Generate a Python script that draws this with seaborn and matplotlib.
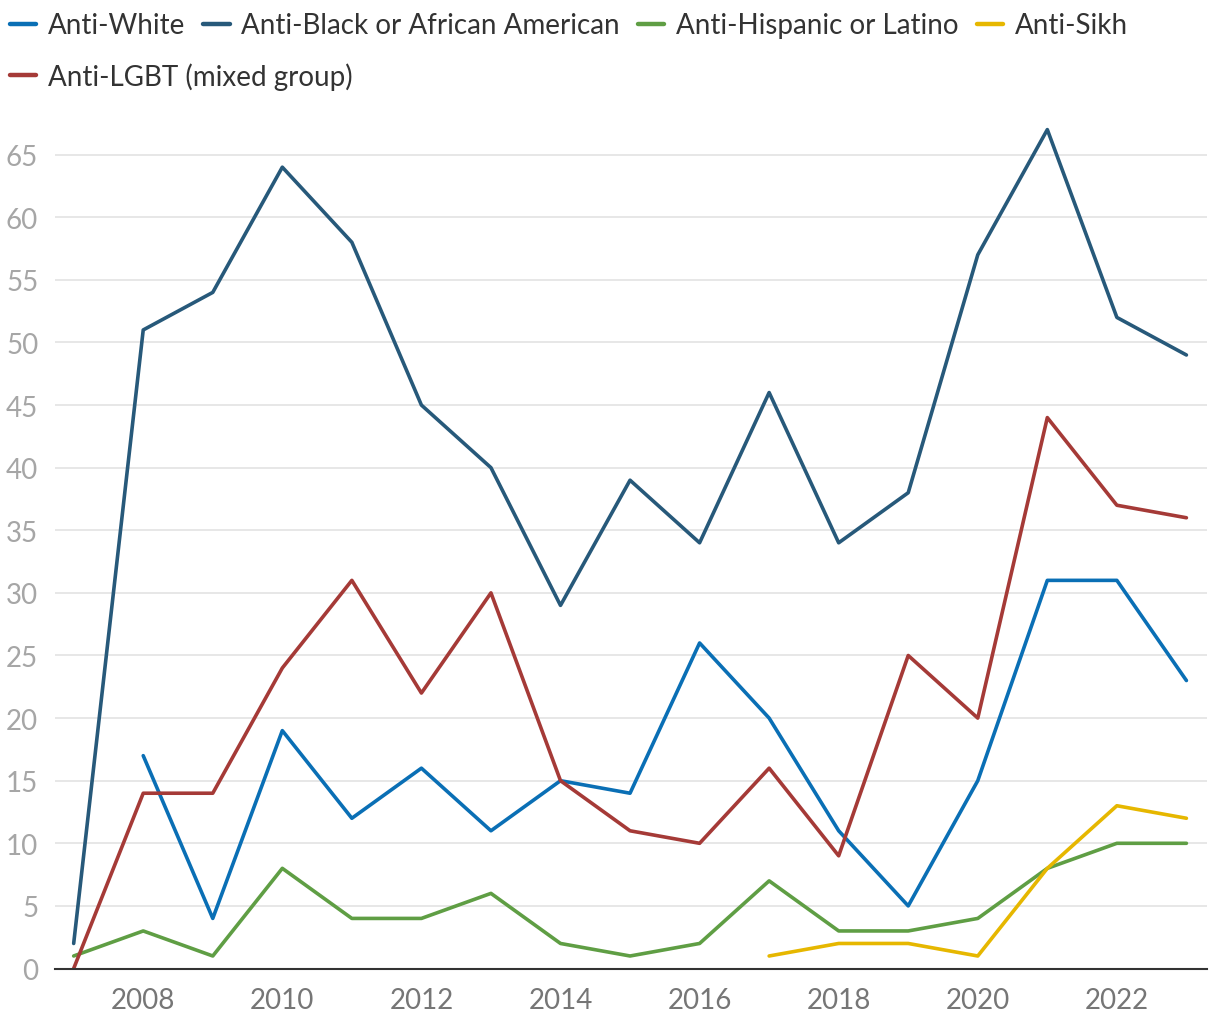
import numpy as np
import pandas as pd
import matplotlib
matplotlib.use("Agg")
import matplotlib.pyplot as plt
import seaborn as sns
from matplotlib.lines import Line2D

years = list(range(2007, 2024))
anti_white = [np.nan, 17, 4, 19, 12, 16, 11, 15, 14, 26, 20, 11, 5, 15, 31, 31, 23]
anti_black = [2, 51, 54, 64, 58, 45, 40, 29, 39, 34, 46, 34, 38, 57, 67, 52, 49]
anti_hispanic = [1, 3, 1, 8, 4, 4, 6, 2, 1, 2, 7, 3, 3, 4, 8, 10, 10]
anti_sikh = [np.nan] * 10 + [1, 2, 2, 1, 8, 13, 12]
anti_lgbt = [0, 14, 14, 24, 31, 22, 30, 15, 11, 10, 16, 9, 25, 20, 44, 37, 36]

series_names = [
    "Anti-White",
    "Anti-Black or African American",
    "Anti-Hispanic or Latino",
    "Anti-Sikh",
    "Anti-LGBT (mixed group)",
]
series_values = [anti_white, anti_black, anti_hispanic, anti_sikh, anti_lgbt]
colors = ["#0a6fb5", "#27597a", "#5f9e44", "#e6b700", "#a53a37"]

y_ticks = list(range(0, 70, 5))
x_ticks = list(range(2008, 2024, 2))

frames = []
for name, vals in zip(series_names, series_values):
    frames.append(pd.DataFrame({"year": years, "count": vals, "group": name}))
df = pd.concat(frames).dropna()

sns.set_theme(style="white")
plt.rcParams["font.family"] = ["Lato", "DejaVu Sans"]

fig = plt.figure(figsize=(12.2, 10.2), dpi=100)
ax = fig.add_axes([0.045, 0.0495, 0.944, 0.847])

sns.lineplot(
    data=df, x="year", y="count", hue="group",
    hue_order=series_names, palette=dict(zip(series_names, colors)),
    linewidth=2.6, ax=ax, legend=False,
)

ax.set_xlim(2006.73, 2023.29)
ax.set_ylim(0, 69)
ax.set_yticks(y_ticks)
ax.set_xticks(x_ticks)
ax.set_xlabel("")
ax.set_ylabel("")
ax.yaxis.grid(True, color="#e3e3e3", linewidth=1.2)
ax.set_axisbelow(True)
for side in ["top", "right", "left"]:
    ax.spines[side].set_visible(False)
ax.spines["bottom"].set_color("#333333")
ax.spines["bottom"].set_linewidth(1.5)
ax.tick_params(axis="y", length=0, pad=12, labelsize=20, labelcolor="#a6a6a6")
ax.tick_params(axis="x", length=0, pad=13, labelsize=20, labelcolor="#767676")

handles = [Line2D([0], [0], color=c, linewidth=3.2, solid_capstyle="round") for c in colors]
leg_kw = dict(frameon=False, fontsize=20, handlelength=0.95, handletextpad=0.42,
              columnspacing=0.65, labelcolor="#333333", borderaxespad=0, borderpad=0)
leg1 = fig.legend(handles[:4], series_names[:4], ncol=4, loc="upper left",
                  bbox_to_anchor=(0.008, 0.987), **leg_kw)
leg2 = fig.legend(handles[4:], series_names[4:], ncol=1, loc="upper left",
                  bbox_to_anchor=(0.008, 0.938), **leg_kw)

fig.savefig("out.png", dpi=100, facecolor="white")
